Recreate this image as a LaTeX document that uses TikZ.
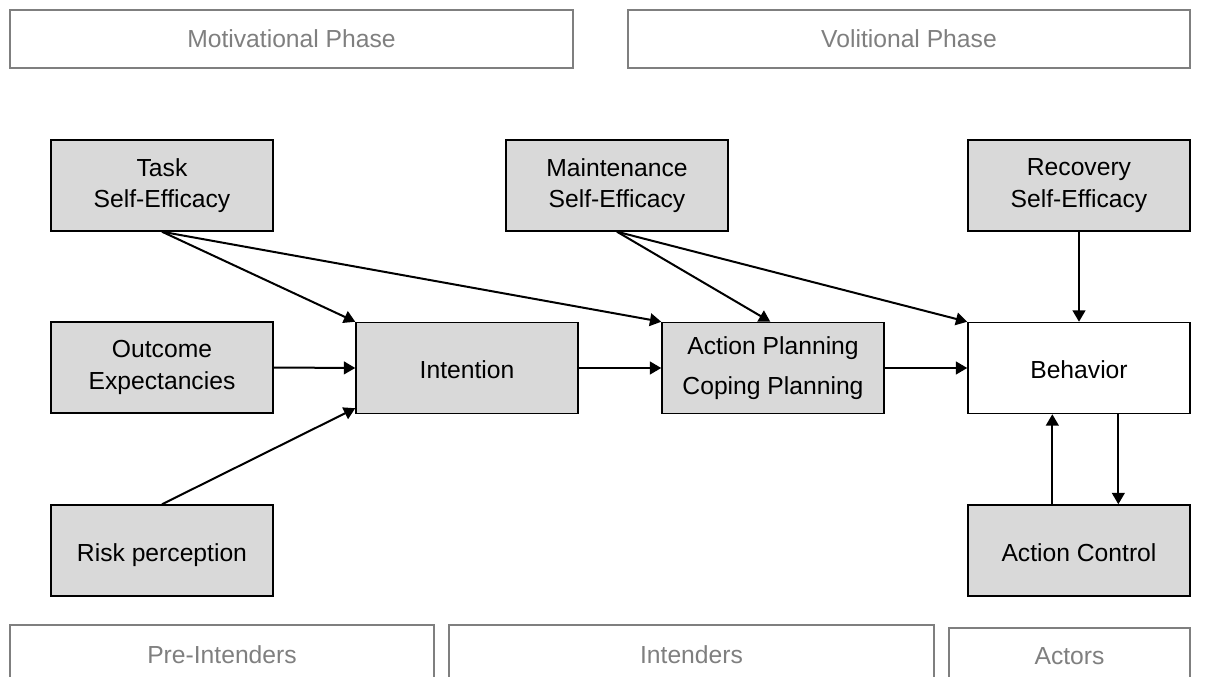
\documentclass[tikz,border=0pt]{standalone}
\usepackage{fontspec}
\setmainfont{Liberation Sans}
\usetikzlibrary{arrows.meta}
\definecolor{boxgray}{HTML}{D9D9D9}
\definecolor{phasegray}{HTML}{7F7F7F}
\begin{document}
\begin{tikzpicture}[x=0.75pt,y=-0.75pt,
  every node/.style={font=\fontsize{18.5}{23.5}\selectfont},
  model/.style={draw=black, line width=1.1pt, fill=boxgray, inner sep=0pt,
    minimum width=166.5pt, minimum height=68.25pt, align=center},
  oneline/.style={text height=19pt, text depth=3pt},
  plainbox/.style={model, fill=white},
  phase/.style={draw=phasegray, line width=1.2pt, inner sep=0pt,
    minimum height=43.5pt, text=phasegray},
  group/.style={draw=phasegray, line width=1.2pt},
  grouplabel/.style={text=phasegray, inner sep=0pt},
  link/.style={line width=1.5pt, -{Triangle[length=8.5pt,width=9.5pt]}}
]
\useasboundingbox (0,0) rectangle (1215,677);

% phase headers
\node[phase, minimum width=422.25pt] (mot) at (291.5,39) {Motivational Phase};
\node[phase, minimum width=421.5pt] (vol) at (909,39) {Volitional Phase};

% stage groups along the bottom edge
\draw[group] (10,677) -- (10,625) -- (434,625) -- (434,677);
\draw[group] (449,677) -- (449,625) -- (934,625) -- (934,677);
\draw[group] (949,677) -- (949,628) -- (1190,628) -- (1190,677);
\node[grouplabel] (pre) at (222,655) {Pre-Intenders};
\node[grouplabel] (intd) at (691.5,655) {Intenders};
\node[grouplabel] (act) at (1069.5,656) {Actors};

% model boxes
\node[model] (task) at (162,185.5) {Task\\Self-Efficacy};
\node[model] (maint) at (617,185.5) {Maintenance\\Self-Efficacy};
\node[model] (rec) at (1079,185.5) {Recovery\\Self-Efficacy};
\node[model] (out) at (162,367.5) {Outcome\\Expectancies};
\node[model, oneline] (int) at (467,368) {Intention};
\node[model] (plan) at (773,368) {Action Planning\\[7pt]Coping Planning};
\node[plainbox, oneline] (beh) at (1079,368) {Behavior};
\node[model, oneline] (risk) at (162,550.5) {Risk perception};
\node[model, oneline] (ctrl) at (1079,550.5) {Action Control};

% connectors
\draw[link] (task.south) -- (int.north west);
\draw[link] (task.south) -- (plan.north west);
\draw[link] (out.east) -- (int.west);
\draw[link] (risk.north) -- ([yshift=4.5pt]int.south west);
\draw[link] (int.east) -- (plan.west);
\draw[link] (maint.south) -- ([xshift=-2pt]plan.north);
\draw[link] (maint.south) -- (beh.north west);
\draw[link] (plan.east) -- (beh.west);
\draw[link] (rec.south) -- (beh.north);
\draw[link] ([xshift=-20pt]ctrl.north) -- ([xshift=-20pt]beh.south);
\draw[link] ([xshift=29.5pt]beh.south) -- ([xshift=29.5pt]ctrl.north);
\end{tikzpicture}
\end{document}
